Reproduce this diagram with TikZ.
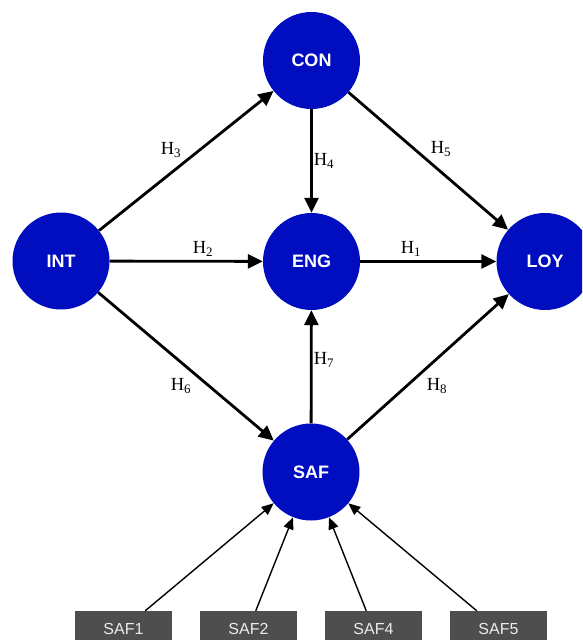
\documentclass[tikz,border=0pt]{standalone}
\usepackage{fontspec}
\setmainfont{Liberation Serif}
\setsansfont{Liberation Sans}
\usetikzlibrary{arrows.meta}
\definecolor{constructblue}{RGB}{0,14,192}
\definecolor{itemgray}{RGB}{78,78,78}
\definecolor{itemtext}{RGB}{235,235,235}
\begin{document}
\begin{tikzpicture}[x=1pt,y=-1pt,
  construct/.style={circle,fill=constructblue,draw=none,minimum size=97pt,inner sep=0pt,
    text=white,font=\sffamily\bfseries\fontsize{18}{18}\selectfont},
  indicator/.style={rectangle,fill=itemgray,draw=none,minimum width=97pt,minimum height=36pt,
    inner sep=0pt,text=itemtext,font=\sffamily\fontsize{16}{16}\selectfont},
  path/.style={line width=2.8pt,-{Triangle[length=15pt,width=14pt]}},
  load/.style={line width=1.4pt,-{Triangle[length=12pt,width=10pt]}},
  hyp/.style={font=\fontsize{18.5}{18.5}\selectfont,inner sep=0pt}
]
\useasboundingbox (0,0) rectangle (582,640);
\clip (0,0) rectangle (582,640);

% latent constructs
\node[construct] (CON) at (311.5,60.5) {CON};
\node[construct] (INT) at (61,261) {INT};
\node[construct] (ENG) at (311.5,261.5) {ENG};
\node[construct] (LOY) at (545,261.5) {LOY};
\node[construct] (SAF) at (311,472) {SAF};

% indicators of SAF
\node[indicator] (SAF1) at (123.5,629) {SAF1};
\node[indicator] (SAF2) at (248.5,629) {SAF2};
\node[indicator] (SAF4) at (373.5,629) {SAF4};
\node[indicator] (SAF5) at (498.5,629) {SAF5};

% structural paths
\draw[path] (INT) -- (CON);
\draw[path] (INT) -- (ENG);
\draw[path] (INT) -- (SAF);
\draw[path] (CON) -- (ENG);
\draw[path] (CON) -- (LOY);
\draw[path] (ENG) -- (LOY);
\draw[path] (SAF) -- (ENG);
\draw[path] (SAF) -- (LOY);

% measurement paths
\draw[load] (SAF1) -- (SAF);
\draw[load] (SAF2) -- (SAF);
\draw[load] (SAF4) -- (SAF);
\draw[load] (SAF5) -- (SAF);

% hypothesis labels
\node[hyp] (h1) at (411,249) {H\textsubscript{1}};
\node[hyp] (h2) at (203,249) {H\textsubscript{2}};
\node[hyp] (h3) at (171,150) {H\textsubscript{3}};
\node[hyp] (h4) at (324,161) {H\textsubscript{4}};
\node[hyp] (h5) at (441,149) {H\textsubscript{5}};
\node[hyp] (h6) at (181,386) {H\textsubscript{6}};
\node[hyp] (h7) at (324,360) {H\textsubscript{7}};
\node[hyp] (h8) at (437,386) {H\textsubscript{8}};
\end{tikzpicture}
\end{document}
